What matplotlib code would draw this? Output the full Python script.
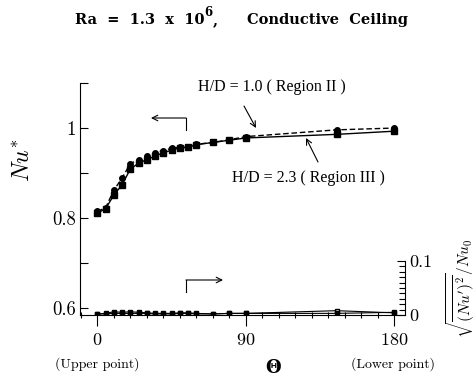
import matplotlib
matplotlib.use("Agg")
import matplotlib.pyplot as plt
from matplotlib.ticker import MultipleLocator, FixedLocator

plt.rcParams["mathtext.fontset"] = "cm"
plt.rcParams["font.family"] = ["cmr10", "DejaVu Serif"]
plt.rcParams["axes.formatter.use_mathtext"] = True

# angle from the upper point (deg)
theta = [0, 5, 10, 15, 20, 25, 30, 35, 40, 45, 50, 55, 60, 70, 80, 90, 145, 180]

# mean Nu* (left axis)
nu_r2 = [0.815, 0.823, 0.862, 0.889, 0.921, 0.930, 0.937, 0.944, 0.950, 0.955,
         0.958, 0.958, 0.964, 0.968, 0.974, 0.981, 0.996, 1.000]
nu_r3 = [0.811, 0.821, 0.851, 0.874, 0.909, 0.922, 0.930, 0.938, 0.945, 0.951,
         0.956, 0.957, 0.963, 0.968, 0.973, 0.978, 0.986, 0.993]

# rms fluctuation (right axis)
rms_r2 = [0.002, 0.003, 0.006, 0.005, 0.006, 0.005, 0.004, 0.003, 0.003, 0.003,
          0.004, 0.004, 0.003, 0.002, 0.003, 0.003, 0.008, 0.004]
rms_r3 = [0.002, 0.002, 0.003, 0.003, 0.003, 0.003, 0.003, 0.002, 0.002, 0.002,
          0.003, 0.003, 0.002, 0.002, 0.003, 0.003, 0.003, 0.005]

W, H = 477, 378


def px(x, y):
    return x / W, 1 - y / H


fig = plt.figure(figsize=(W / 100, H / 100), dpi=100)
ax = fig.add_axes([80 / W, 1 - 315 / H, 325 / W, 232 / H])
ax2 = ax.twinx()

ax.plot(theta, nu_r2, color="black", lw=1.0, ls=(0, (4, 2)), marker="o", ms=4)
ax.plot(theta, nu_r3, color="black", lw=1.0, marker="s", ms=4)
ax2.plot(theta, rms_r2, color="black", lw=0.8, marker="s", ms=3.5, mfc="white")
ax2.plot(theta, rms_r3, color="black", lw=0.8, marker="s", ms=2.5)

ax.set_xlim(-10.5, 186.5)
ax.set_ylim(0.585, 1.1)
ax2.set_ylim(0, 0.43)

for s in ["top", "right"]:
    ax.spines[s].set_visible(False)
for s in ["top", "left", "bottom"]:
    ax2.spines[s].set_visible(False)
ax2.spines["right"].set_bounds(0, 0.1)

ax.xaxis.set_major_locator(FixedLocator([0, 90, 180]))
ax.xaxis.set_minor_locator(MultipleLocator(10))
ax.tick_params(axis="x", which="major", direction="out", length=8, width=0.8,
               labelsize=13, pad=4)
ax.tick_params(axis="x", which="minor", direction="inout", length=5, width=0.8)

ax.yaxis.set_major_locator(FixedLocator([0.6, 0.8, 1.0]))
ax.yaxis.set_minor_locator(FixedLocator([0.7, 0.9, 1.1]))
ax.set_yticklabels(["0.6", "0.8", "1"])
ax.tick_params(axis="y", which="both", direction="in", length=6, width=0.8,
               labelsize=13.5, pad=3)

ax2.yaxis.set_major_locator(FixedLocator([0, 0.1]))
ax2.yaxis.set_minor_locator(FixedLocator([i / 100 for i in range(1, 10)]))
ax2.set_yticklabels(["0", "0.1"])
ax2.tick_params(axis="y", which="major", direction="in", length=6, width=0.8,
                labelsize=13, pad=3)
ax2.tick_params(axis="y", which="minor", direction="in", length=4, width=0.8)

fig.text(*px(23, 160), r"$Nu^{*}$", fontsize=17, rotation=90,
         ha="center", va="center")
fig.text(*px(461, 289), r"$\sqrt{\overline{(Nu^{\prime})^2}}/Nu_0$", fontsize=11,
         rotation=90, ha="center", va="center")

# title, exponent placed by hand so it stays readable
bold = dict(family="DejaVu Serif", weight="bold", color="black")
t1 = fig.text(*px(75, 20), "Ra  =  1.3  x  10", fontsize=10.5, ha="left",
              va="center", **bold)
ax.annotate("6", xy=(1.0, 0.55), xycoords=t1, ha="left", va="bottom",
            fontsize=8.5, annotation_clip=False, **bold)
ax.annotate(",", xy=(1.0, 0.0), xycoords=t1, xytext=(6, 0),
            textcoords="offset points", ha="left", va="bottom", fontsize=10.5,
            annotation_clip=False, **bold)
fig.text(*px(247, 20), "Conductive  Ceiling", fontsize=10.5, ha="left",
         va="center", **bold)

fig.text(*px(97, 364), "(Upper point)", fontsize=10, ha="center", va="center")
fig.text(*px(393, 364), "(Lower point)", fontsize=10, ha="center", va="center")
fig.text(*px(273, 368), "\u0398", fontsize=13, family="DejaVu Serif",
         weight="bold", ha="center", va="center")

fig.text(*px(198, 87), "H/D = 1.0 ( Region II )", fontsize=11.5,
         family="Liberation Serif", ha="left", va="center")
fig.text(*px(232, 178), "H/D = 2.3 ( Region III )", fontsize=11.5,
         family="Liberation Serif", ha="left", va="center")

arrow = dict(arrowstyle="->", color="black", lw=0.8, shrinkA=0, shrinkB=0)
ax.annotate("", xy=px(256, 128), xytext=px(244, 106), xycoords="figure fraction",
            textcoords="figure fraction", arrowprops=arrow)
ax.annotate("", xy=px(306, 138), xytext=px(318, 162), xycoords="figure fraction",
            textcoords="figure fraction", arrowprops=arrow)

# direction markers pointing at the axis each curve belongs to
fig.add_artist(plt.Line2D([186 / W, 186 / W], [1 - 130 / H, 1 - 118 / H],
                          color="black", lw=0.8))
ax.annotate("", xy=px(151, 118), xytext=px(186, 118), xycoords="figure fraction",
            textcoords="figure fraction", arrowprops=arrow)
fig.add_artist(plt.Line2D([186 / W, 186 / W], [1 - 292 / H, 1 - 280 / H],
                          color="black", lw=0.8))
ax.annotate("", xy=px(223, 280), xytext=px(186, 280), xycoords="figure fraction",
            textcoords="figure fraction", arrowprops=arrow)

fig.savefig("out.png", dpi=100)
